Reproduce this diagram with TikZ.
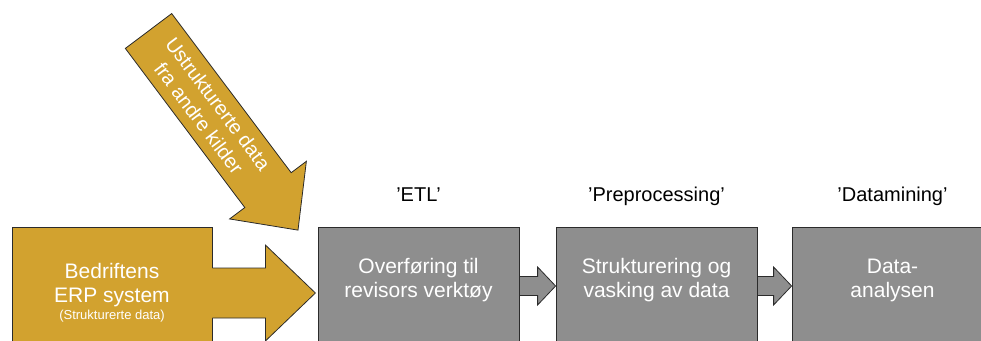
\documentclass[tikz,border=0pt]{standalone}
\usepackage{fontspec}
\setmainfont{Liberation Sans}
\usetikzlibrary{calc,positioning}
\definecolor{erpgold}{HTML}{D2A22F}
\definecolor{procgray}{HTML}{8E8E8E}
\definecolor{edgecol}{HTML}{2B2B2B}

\begin{document}
\begin{tikzpicture}[
  x=1pt, y=-1pt,
  procbox/.style={draw=edgecol, line width=0.8pt, fill=procgray, minimum width=201pt, minimum height=118pt, inner sep=0pt},
  erpbox/.style={draw=edgecol, line width=0.8pt, fill=erpgold, minimum width=200pt, minimum height=132pt, inner sep=0pt, align=center, text=white, font=\fontsize{21}{24}\selectfont},
  boxtext/.style={align=center, text=white, font=\fontsize{21}{24}\selectfont},
  headtext/.style={anchor=base, font=\fontsize{20}{24}\selectfont},
  outline/.style={draw=edgecol, line width=0.8pt, line join=miter},
  grayarrow/.style={draw=edgecol, line width=0.8pt, fill=procgray}
]
\useasboundingbox (0,0) rectangle (981,340);
\clip (0,0) rectangle (981,340);

% process boxes
\node[procbox] (etl) at (418.5,286) {};
\node[procbox] (prep) at (656.5,286) {};
\node[procbox] (mine) at (892.5,286) {};
\node[boxtext] (etltxt) at ([yshift=6pt]etl.center) {Overføring til\\revisors verktøy};
\node[boxtext] (preptxt) at ([yshift=6pt]prep.center) {Strukturering og\\vasking av data};
\node[boxtext] (minetxt) at ([yshift=6pt]mine.center) {Data-\\analysen};

% headings
\node[headtext] (etlhead) at ([yshift=25pt]etl.north) {'ETL'};
\node[headtext] (prephead) at ([yshift=25pt]prep.north) {'Preprocessing'};
\node[headtext] (minehead) at ([yshift=25pt]mine.north) {'Datamining'};

% source system
\node[erpbox] (erp) at (112,293) {Bedriftens\\ERP system\\[-7pt]{\fontsize{13}{15}\selectfont(Strukturerte data)}};
\fill[erpgold] ($(erp.east)+(-0.5,-25)$) -- ($(erp.east)+(53,-25)$) -- ($(erp.east)+(53,-48)$)
  -- ($(erp.east)+(103,0)$) -- ($(erp.east)+(53,48)$) -- ($(erp.east)+(53,25)$)
  -- ($(erp.east)+(-0.5,25)$) -- cycle;
\draw[outline] ($(erp.east)+(0,-25)$) -- ($(erp.east)+(53,-25)$) -- ($(erp.east)+(53,-48)$)
  -- ($(erp.east)+(103,0)$) -- ($(erp.east)+(53,48)$) -- ($(erp.east)+(53,25)$)
  -- ($(erp.east)+(0,25)$);

% block arrows between steps
\foreach \from/\to in {etl/prep, prep/mine}
  \draw[grayarrow] ($(\from.east)+(0,-9.5)$) -- ($(\to.west)+(-18,-9.5)$) -- ($(\to.west)+(-18,-19)$)
    -- (\to.west) -- ($(\to.west)+(-18,19)$) -- ($(\to.west)+(-18,9.5)$)
    -- ($(\from.east)+(0,9.5)$) -- cycle;

% other sources
\coordinate (src) at (148.5,31);
\begin{scope}[shift={(src)}, rotate=-53.1]
  \draw[outline, fill=erpgold] (0,-29) -- (199,-29) -- (199,-48) -- (249,0) -- (199,48) -- (199,29) -- (0,29) -- cycle;
  \node[boxtext, font=\fontsize{20}{24}\selectfont, transform shape] (srctxt) at (100,0) {Ustrukturerte data\\fra andre kilder};
\end{scope}
\end{tikzpicture}
\end{document}
